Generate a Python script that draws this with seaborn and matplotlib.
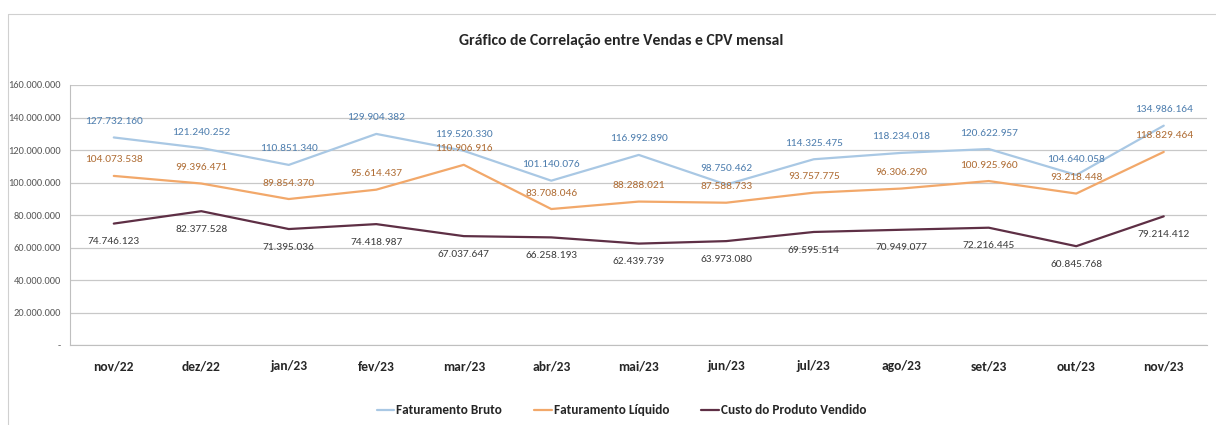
import pandas as pd
import matplotlib.pyplot as plt
import seaborn as sns
from matplotlib.lines import Line2D
from matplotlib.ticker import FuncFormatter, FixedLocator

meses = ['nov/22', 'dez/22', 'jan/23', 'fev/23', 'mar/23', 'abr/23', 'mai/23',
         'jun/23', 'jul/23', 'ago/23', 'set/23', 'out/23', 'nov/23']
fat_bruto = [127732160, 121240252, 110851340, 129904382, 119520330, 101140076, 116992890,
             98750462, 114325475, 118234018, 120622957, 104640058, 134986164]
fat_liquido = [104073538, 99396471, 89854370, 95614437, 110906916, 83708046, 88288021,
               87588733, 93757775, 96306290, 100925960, 93218448, 118829464]
cpv = [74746123, 82377528, 71395036, 74418987, 67037647, 66258193, 62439739,
       63973080, 69595514, 70949077, 72216445, 60845768, 79214412]

series = ['Faturamento Bruto', 'Faturamento Líquido', 'Custo do Produto Vendido']
line_colors = ['#A9C8E4', '#F2A86A', '#5E2F45']
text_colors = ['#4F7FAF', '#B06E36', '#3F3F3F']

df = pd.DataFrame({'mes': meses * 3,
                   'valor': fat_bruto + fat_liquido + cpv,
                   'serie': [s for s in series for _ in meses]})
df['pos'] = list(range(len(meses))) * 3

sns.set_style('white')
plt.rcParams['font.family'] = ['Carlito', 'DejaVu Sans']

fig = plt.figure(figsize=(12.16, 4.25), dpi=100)
ax = fig.add_axes([0.0576, 0.188, 0.9354, 0.612])
sns.lineplot(data=df, x='pos', y='valor', hue='serie', palette=line_colors,
             linewidth=1.6, ax=ax, legend=False, sort=False)

def fmt(v, _):
    if v == 0:
        return '-'
    return f'{int(v):,}'.replace(',', '.')

# data labels
for vals, tc, off in zip([fat_bruto, fat_liquido, cpv], text_colors, [11.5, 11.5, -13]):
    for i, v in enumerate(vals):
        ax.annotate(fmt(v, None), (i, v), xytext=(0, off), textcoords='offset points',
                    ha='center', va='center', fontsize=8.2, color=tc)

ax.set_xlim(-0.5, len(meses) - 0.5)
ax.set_ylim(0, 160000000)
ax.set_yticks(range(0, 160000001, 20000000))
ax.yaxis.set_major_formatter(FuncFormatter(fmt))
ax.tick_params(axis='y', labelsize=7.5, colors='#595959', length=3)
ax.set_xticks(range(len(meses)))
ax.set_xticklabels(meses, fontsize=9.7, fontweight='bold', color='#262626')
ax.tick_params(axis='x', length=0, pad=11)
ax.xaxis.set_minor_locator(FixedLocator([i - 0.5 for i in range(len(meses) + 1)]))
ax.tick_params(axis='x', which='minor', length=4, color='#BFBFBF')
ax.grid(axis='y', color='#C8C8C8', linewidth=0.9)
ax.set_axisbelow(True)
ax.set_xlabel('')
ax.set_ylabel('')
for s in ['top', 'right']:
    ax.spines[s].set_visible(False)
for s in ['left', 'bottom']:
    ax.spines[s].set_color('#BFBFBF')

fig.suptitle('Gráfico de Correlação entre Vendas e CPV mensal', x=0.511, y=0.92,
             fontsize=11.3, fontweight='bold', color='#262626')

handles = [Line2D([], [], color=c, linewidth=1.6) for c in line_colors]
fig.legend(handles, series, loc='center', bbox_to_anchor=(0.511, 0.035), ncol=3,
           frameon=False, handlelength=1.35, handletextpad=0.15,
           columnspacing=2.4, prop={'weight': 'bold', 'size': 9.5})

# chart border (partly cropped)
fig.add_artist(Line2D([8 / 1216, 8 / 1216], [0, 1 - 14 / 425], transform=fig.transFigure,
                      color='#D0D0D0', linewidth=0.8))
fig.add_artist(Line2D([8 / 1216, 1], [1 - 14 / 425, 1 - 14 / 425], transform=fig.transFigure,
                      color='#D0D0D0', linewidth=0.8))

fig.savefig('out.png', dpi=100)
